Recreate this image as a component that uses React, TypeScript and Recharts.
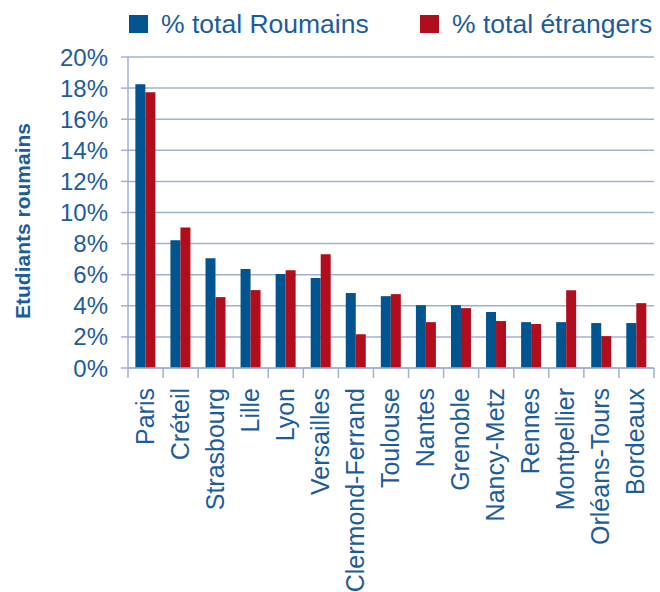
import React from 'react';
import { BarChart, Bar, XAxis, YAxis, CartesianGrid } from 'recharts';

const categories = ['Paris', 'Créteil', 'Strasbourg', 'Lille', 'Lyon', 'Versailles', 'Clermond-Ferrand', 'Toulouse', 'Nantes', 'Grenoble', 'Nancy-Metz', 'Rennes', 'Montpellier', 'Orléans-Tours', 'Bordeaux'];
const roumains = [18.24, 8.22, 7.06, 6.36, 6.04, 5.78, 4.82, 4.62, 4.04, 4.04, 3.6, 2.95, 2.95, 2.89, 2.89];
const etrangers = [17.73, 9.03, 4.56, 5.01, 6.29, 7.32, 2.17, 4.75, 2.95, 3.85, 3.02, 2.83, 5.0, 2.05, 4.17];
const yTicks = [0, 2, 4, 6, 8, 10, 12, 14, 16, 18, 20];
const seriesNames = ['% total Roumains', '% total étrangers'];
const yAxisTitle = 'Etudiants roumains';

const BLUE = '#00548f';
const RED = '#b20d1d';
const GRID = '#9cb1d4';
const TEXT = '#1d5c9b';
const FONT = "'Liberation Sans', Arial, sans-serif";

const W = 660;
const H = 592;
const M = { top: 57, right: 6, left: 0, bottom: 4 };
const Y_W = 128;
const X_H = 220;
const PLOT_W = W - M.left - M.right - Y_W;
const BAND = PLOT_W / categories.length;

const data = categories.map((c, i) => ({ name: c, roumains: roumains[i], etrangers: etrangers[i] }));

const XTick = (props: any) => {
  const { x, y, payload, index } = props;
  const left = x - BAND / 2;
  const right = x + BAND / 2;
  return (
    <g>
      <line x1={left} y1={y} x2={left} y2={y + 10} stroke={GRID} strokeWidth={1.5} />
      {index === categories.length - 1 && (
        <line x1={right} y1={y} x2={right} y2={y + 10} stroke={GRID} strokeWidth={1.5} />
      )}
      <text
        transform={`translate(${x - 1}, ${y + 20}) rotate(-90)`}
        textAnchor="end"
        dominantBaseline="central"
        fill={TEXT}
        fontFamily={FONT}
        fontSize={25}
      >
        {payload.value}
      </text>
    </g>
  );
};

const YTick = (props: any) => {
  const { x, y, payload } = props;
  return (
    <text x={x - 11} y={y} textAnchor="end" dominantBaseline="central" fill={TEXT} fontFamily={FONT} fontSize={24}>
      {`${payload.value}%`}
    </text>
  );
};

const YTitle = () => (
  <text
    transform={`translate(30, 221) rotate(-90)`}
    textAnchor="middle"
    fill={TEXT}
    fontFamily={FONT}
    fontWeight="bold"
    fontSize={21}
  >
    {yAxisTitle}
  </text>
);

export default function App() {
  const colors = [BLUE, RED];
  const legendX = [129, 420];
  return (
    <div style={{ position: 'absolute', left: 0, top: 0, width: W, height: H, background: '#fff' }}>
      <svg width={W} height={50} style={{ position: 'absolute', left: 0, top: 0 }}>
        {seriesNames.map((n, i) => (
          <g key={n}>
            <rect x={legendX[i]} y={15} width={19} height={18} fill={colors[i]} />
            <text x={legendX[i] + 32} y={33} fill={TEXT} fontFamily={FONT} fontSize={26.5}>
              {n}
            </text>
          </g>
        ))}
      </svg>
      <BarChart width={W} height={H} data={data} margin={M} barCategoryGap="21%" barGap={0}>
        <CartesianGrid vertical={false} stroke={GRID} strokeWidth={1.5} />
        <XAxis
          dataKey="name"
          interval={0}
          height={X_H}
          tickSize={0}
          tickMargin={0}
          tickLine={false}
          axisLine={{ stroke: GRID, strokeWidth: 1.5 }}
          tick={<XTick />}
        />
        <YAxis
          width={Y_W}
          domain={[0, 20]}
          ticks={yTicks}
          interval={0}
          tickSize={7}
          tickLine={{ stroke: GRID, strokeWidth: 1.5 }}
          axisLine={{ stroke: GRID, strokeWidth: 1.5 }}
          tick={<YTick />}
          label={{ content: <YTitle /> }}
        />
        <Bar dataKey="roumains" name={seriesNames[0]} fill={BLUE} isAnimationActive={false} />
        <Bar dataKey="etrangers" name={seriesNames[1]} fill={RED} isAnimationActive={false} />
      </BarChart>
    </div>
  );
}
